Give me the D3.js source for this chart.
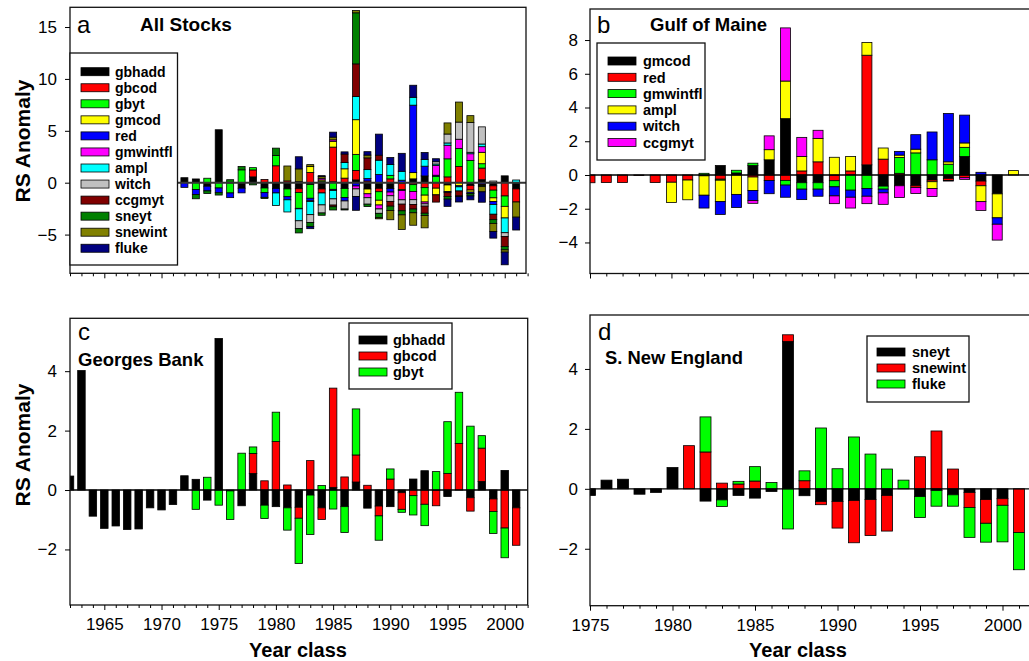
<!DOCTYPE html>
<html>
<head>
<meta charset="utf-8">
<script src="https://cdn.jsdelivr.net/npm/d3@7"></script>
<style>
  body { margin: 0; background: #fff; }
  text { font-family: Arial, "Liberation Sans", sans-serif; fill: #000; }
</style>
</head>
<body>
<svg id="chart" width="1029" height="661"></svg>
<script>
// year classes
const yearsGB = [1962, 1963, 1964, 1965, 1966, 1967, 1968, 1969, 1970, 1971,
  1972, 1973, 1974, 1975, 1976, 1977, 1978, 1979, 1980, 1981,
  1982, 1983, 1984, 1985, 1986, 1987, 1988, 1989, 1990, 1991,
  1992, 1993, 1994, 1995, 1996, 1997, 1998, 1999, 2000, 2001];
const yearsGM = yearsGB.slice(10); // 1972-2001

// Georges Bank stocks (1962-2001)
const gbhadd = [0.47, 4.02, -0.88, -1.29, -1.21, -1.33, -1.31, -0.60, -0.67, -0.49,
  0.48, 0.36, -0.34, 5.10, -0.03, -0.53, 0.56, -0.51, -0.56, -0.60,
  -0.58, -0.17, -0.60, 0.09, -0.56, 0.27, -0.61, -0.54, -0.56, -0.09,
  0.37, 0.65, 0, -0.22, 0, -0.26, 0.29, -0.30, 0.66, -0.60];
const gbcod = [null, null, null, null, null, null, null, null, null, null,
  null, null, null, null, null, null, 0.67, 0.31, 1.63, 0.17,
  -0.37, 0.99, -0.39, 3.34, 0.44, 0.91, 0.16, -0.33, 0.37, -0.56,
  -0.19, -0.48, -0.53, 0.56, 1.57, -0.45, 1.12, -0.42, -1.28, -1.26];
const gbyt = [null, null, null, null, null, null, null, null, null, null,
  null, -0.65, 0.43, -0.51, -0.96, 1.24, 0.22, -0.45, 0.99, -0.75,
  -1.52, -1.33, 0.15, -0.64, -0.87, 1.55, 0, -0.82, 0.34, -0.10,
  -0.65, -0.72, 0.62, 1.74, 1.72, 2.15, 0.42, -0.74, -1.00, 0];

// Gulf of Maine stocks (1972-2001)
const gmcod = [null, null, null, null, null, null, null, null, null, null,
  null, 0.56, 0.12, 0.56, 0.90, 3.34, -0.46, -0.46, 0, 0,
  0.60, -0.66, -0.64, -0.64, -0.30, -0.20, 1.10, -0.36, -1.12, 0];
const redfish = [-0.45, -0.48, -0.45, -0.46, -0.45, -0.45, -0.03, -0.45, -0.43, -0.30,
  -0.05, -0.25, 0, -0.12, -0.33, -0.32, 0.24, 0.78, -0.34, 0.24,
  6.50, 0.94, 0.10, -0.10, -0.10, -0.12, -0.16, -0.28, 0, 0];
const gmwintfl = [null, null, null, null, null, null, null, null, null, null,
  0.10, -0.06, 0.16, 0.14, 0, -0.28, -0.38, -0.38, -0.36, -0.90,
  -0.80, -0.18, 0.94, 1.31, 0.90, 0.64, 0.54, 0, 0, 0];
const ampl = [null, null, null, null, null, null, null, null, -1.20, -1.17,
  -1.15, -1.27, -1.15, -0.80, 0.60, 2.23, 0.86, 1.39, 1.05, 0.86,
  0.76, 0.66, 0.14, 0.22, -0.40, 0.14, 0.26, -0.94, -1.42, 0.26];
const witch = [null, null, null, null, null, null, null, null, null, null,
  -0.76, -0.76, -0.78, -0.60, -0.78, -0.72, -0.62, -0.42, -0.54, -0.42,
  -0.46, -0.22, 0.22, 0.86, 1.65, 2.87, 1.65, 0.16, -0.38, 0];
const ccgmyt = [null, null, null, null, null, null, null, null, null, null,
  null, null, null, -0.16, 0.82, 3.15, 1.13, 0.48, -0.46, -0.64,
  -0.44, -0.68, -0.70, -0.36, -0.48, -0.04, -0.10, -0.52, -0.94, 0];

// Southern New England stocks (1972-2001)
const sneyt = [0, -0.42, -0.25, -0.22, 0.29, 0.32, -0.18, -0.12, 0.71, 0,
  -0.41, -0.37, -0.22, -0.31, -0.09, 4.92, -0.23, -0.42, -0.42, -0.39,
  -0.36, -0.22, 0, -0.26, -0.06, -0.20, -0.12, -0.36, -0.33, 0];
const snewint = [null, null, null, null, null, null, null, null, null, 1.44,
  1.23, 0.19, 0.16, 0.26, 0, 0.22, 0.27, -0.11, -0.89, -1.41,
  -1.20, -1.19, 0, 1.07, 1.93, 0.66, -0.50, -0.79, -0.22, -1.46];
const fluke = [null, null, null, null, null, null, null, null, null, null,
  1.17, -0.22, 0.09, 0.48, 0.21, -1.34, 0.33, 2.03, 0.67, 1.73,
  1.16, 0.66, 0.29, -0.70, -0.52, -0.38, -1.00, -0.63, -1.22, -1.24];

const series = {
  gbhadd: [yearsGB, gbhadd], gbcod: [yearsGB, gbcod], gbyt: [yearsGB, gbyt],
  gmcod: [yearsGM, gmcod], red: [yearsGM, redfish], gmwintfl: [yearsGM, gmwintfl],
  ampl: [yearsGM, ampl], witch: [yearsGM, witch], ccgmyt: [yearsGM, ccgmyt],
  sneyt: [yearsGM, sneyt], snewint: [yearsGM, snewint], fluke: [yearsGM, fluke]
};

function val(key, yr) {
  const [yrs, vals] = series[key];
  const i = yrs.indexOf(yr);
  return i < 0 || vals[i] == null ? 0 : vals[i];
}

const keysA = ["gbhadd", "gbcod", "gbyt", "gmcod", "red", "gmwintfl", "ampl", "witch", "ccgmyt", "sneyt", "snewint", "fluke"];
const colorsA = ["#000000", "#ff0000", "#00ff00", "#ffff00", "#0000ff", "#ff00ff", "#00ffff", "#c0c0c0", "#800000", "#008000", "#808000", "#000080"];
const keysB = ["gmcod", "red", "gmwintfl", "ampl", "witch", "ccgmyt"];
const colorsB = ["#000000", "#ff0000", "#00ff00", "#ffff00", "#0000ff", "#ff00ff"];
const keysC = ["gbhadd", "gbcod", "gbyt"];
const keysD = ["sneyt", "snewint", "fluke"];
const colors3 = ["#000000", "#ff0000", "#00ff00"];

const panels = [
  { id: "a", title: "All Stocks", keys: keysA, colors: colorsA,
    years: yearsGM, xDom: [1962, 2002], xRange: [70, 527.6], right: 526,
    yDom: [-8.73, 16.9], yRange: [273.3, 7.3], yTicks: [-5, 0, 5, 10, 15], labels: false,
    barW: 7, zeroW: 2, zeroC: "#333",
    letter: [77, 33], titlePos: [140, 31], titleSize: 19,
    legend: { x0: 70, x1: 177.5, y0: 53, y1: 265, row0: 71.7, dy: 16.05, sw: [81, 109], tx: 115, fs: 14 } },
  { id: "b", title: "Gulf of Maine", keys: keysB, colors: colorsB,
    years: yearsGM.filter(y => y >= 1975), xDom: [1975, 2002], xRange: [590, 1029.8], right: 1040,
    yDom: [-5.84, 9.84], yRange: [273.5, 9], yTicks: [-4, -2, 0, 2, 4, 6, 8], labels: false,
    barW: 10, zeroW: 1.3, zeroC: "#000",
    letter: [597, 33], titlePos: [650, 31], titleSize: 18.5,
    legend: { x0: 597, x1: 705, y0: 43, y1: 160, row0: 61, dy: 16.3, sw: [608, 636], tx: 643, fs: 14.5 } },
  { id: "c", title: "Georges Bank", keys: keysC, colors: colors3,
    years: yearsGB, xDom: [1962, 2002], xRange: [70, 527.6], right: 527.7,
    yDom: [-3.87, 5.78], yRange: [605, 318.3], yTicks: [-2, 0, 2, 4], labels: true,
    barW: 7.5, zeroW: 1.3, zeroC: "#000",
    letter: [78, 340], titlePos: [78, 366], titleSize: 18.5,
    legend: { x0: 349, x1: 452, y0: 323, y1: 389, row0: 340, dy: 16, sw: [359, 387], tx: 393, fs: 14.5 } },
  { id: "d", title: "S. New England", keys: keysD, colors: colors3,
    years: yearsGM.filter(y => y >= 1975), xDom: [1975, 2002], xRange: [590, 1035.5], right: 1040,
    yDom: [-3.9, 5.8], yRange: [605.7, 315], yTicks: [-2, 0, 2, 4], labels: true,
    barW: 11, zeroW: 1.3, zeroC: "#000",
    letter: [598, 340], titlePos: [605, 364], titleSize: 18.4,
    legend: { x0: 867, x1: 969, y0: 336, y1: 402, row0: 352, dy: 16, sw: [877, 905], tx: 912, fs: 14.5 } }
];

const svg = d3.select("#chart");

panels.forEach(p => {
  const x = d3.scaleLinear().domain(p.xDom).range(p.xRange);
  const y = d3.scaleLinear().domain(p.yDom).range(p.yRange);
  const left = p.xRange[0], top = p.yRange[1], bottom = p.yRange[0];
  const g = svg.append("g");

  g.append("clipPath").attr("id", "clip-" + p.id)
    .append("rect").attr("x", left).attr("y", top)
    .attr("width", p.right - left).attr("height", bottom - top);

  const rows = p.years.map(yr => {
    const r = { year: yr };
    p.keys.forEach(k => { r[k] = val(k, yr); });
    return r;
  });
  const stacked = d3.stack().keys(p.keys).offset(d3.stackOffsetDiverging)(rows);

  const bars = g.append("g").attr("clip-path", `url(#clip-${p.id})`);
  stacked.forEach((s, i) => {
    bars.append("g").selectAll("rect")
      .data(s.filter(d => Math.abs(d[1] - d[0]) > 1e-9))
      .join("rect")
      .attr("x", d => x(d.data.year) - p.barW / 2)
      .attr("y", d => y(Math.max(d[0], d[1])))
      .attr("width", p.barW)
      .attr("height", d => Math.abs(y(d[0]) - y(d[1])))
      .attr("fill", p.colors[i])
      .attr("stroke", "#000")
      .attr("stroke-width", 0.8);
  });

  // zero line
  g.append("line")
    .attr("x1", left).attr("x2", p.right)
    .attr("y1", y(0)).attr("y2", y(0))
    .attr("stroke", p.zeroC).attr("stroke-width", p.zeroW);

  // frame
  g.append("rect")
    .attr("x", left).attr("y", top)
    .attr("width", p.right - left).attr("height", bottom - top)
    .attr("fill", "none").attr("stroke", "#111").attr("stroke-width", 1.3);

  // y axis
  g.append("g")
    .attr("transform", `translate(${left},0)`)
    .call(d3.axisLeft(y).tickValues(p.yTicks).tickSize(5).tickPadding(p.id === "a" || p.id === "c" ? 8 : 7))
    .call(a => a.select(".domain").remove())
    .call(a => a.selectAll("text").attr("font-size", 17).attr("font-family", "Arial, 'Liberation Sans', sans-serif").attr("fill", "#000"))
    .call(a => a.selectAll("line").attr("stroke", "#000"));

  // x axis: minor and major ticks
  const tickYears = d3.range(Math.ceil(p.xDom[0]), Math.floor(p.xDom[1]) + 1);
  g.append("g")
    .attr("transform", `translate(0,${bottom})`)
    .call(d3.axisBottom(x).tickValues(tickYears.filter(v => v % 5 !== 0)).tickSize(3).tickFormat(""))
    .call(a => a.select(".domain").remove())
    .call(a => a.selectAll("line").attr("stroke", "#000"));
  g.append("g")
    .attr("transform", `translate(0,${bottom})`)
    .call(d3.axisBottom(x).tickValues(tickYears.filter(v => v % 5 === 0)).tickSize(5).tickPadding(8)
      .tickFormat(p.labels ? d3.format("d") : ""))
    .call(a => a.select(".domain").remove())
    .call(a => a.selectAll("text").attr("font-size", 17).attr("font-family", "Arial, 'Liberation Sans', sans-serif").attr("fill", "#000"))
    .call(a => a.selectAll("line").attr("stroke", "#000"));

  // panel letter and title
  g.append("text").attr("x", p.letter[0]).attr("y", p.letter[1])
    .attr("font-size", 24).text(p.id);
  g.append("text").attr("x", p.titlePos[0]).attr("y", p.titlePos[1])
    .attr("font-size", p.titleSize).attr("font-weight", "bold").text(p.title);

  // legend
  const L = p.legend;
  const lg = g.append("g");
  lg.append("rect")
    .attr("x", L.x0).attr("y", L.y0)
    .attr("width", L.x1 - L.x0).attr("height", L.y1 - L.y0)
    .attr("fill", "#fff").attr("stroke", "#111").attr("stroke-width", 1.3);
  p.keys.forEach((k, i) => {
    const cy = L.row0 + i * L.dy;
    lg.append("rect")
      .attr("x", L.sw[0]).attr("y", cy - 4)
      .attr("width", L.sw[1] - L.sw[0]).attr("height", 8)
      .attr("fill", p.colors[i]).attr("stroke", "#000").attr("stroke-width", 0.8);
    lg.append("text")
      .attr("x", L.tx).attr("y", cy).attr("dy", "0.36em")
      .attr("font-size", L.fs).attr("font-weight", "bold").text(k);
  });
});

// axis titles
[[141], [445]].forEach(([cy]) => {
  svg.append("text")
    .attr("transform", `translate(29.5,${cy}) rotate(-90)`)
    .attr("text-anchor", "middle")
    .attr("font-size", 21).attr("font-weight", "bold")
    .text("RS Anomaly");
});
[298, 798].forEach(cx => {
  svg.append("text")
    .attr("x", cx).attr("y", 657)
    .attr("text-anchor", "middle")
    .attr("font-size", 20).attr("font-weight", "bold")
    .text("Year class");
});
</script>
</body>
</html>
